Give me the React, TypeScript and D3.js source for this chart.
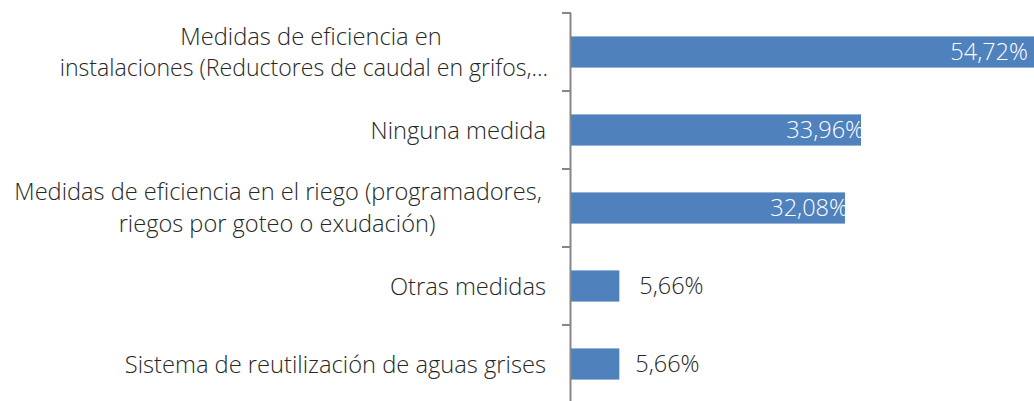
import React from "react";
import * as d3 from "d3";

const categories: string[][] = [
  ["Medidas de eficiencia en", "instalaciones (Reductores de caudal en grifos,…"],
  ["Ninguna medida"],
  ["Medidas de eficiencia en el riego (programadores,", "riegos por goteo o exudación)"],
  ["Otras medidas"],
  ["Sistema de reutilización de aguas grises"],
];
const values: number[] = [54.72, 33.96, 32.08, 5.66, 5.66];
const valueLabels: string[] = ["54,72%", "33,96%", "32,08%", "5,66%", "5,66%"];

const W = 1034;
const H = 401;
const FONT = "'Open Sans', 'Noto Sans', sans-serif";

type LinePos = { x: number; anchor: "start" | "middle" | "end"; size: number };
const linePos: LinePos[][] = [
  [{ x: 311, anchor: "middle", size: 23.7 }, { x: 548, anchor: "end", size: 23.1 }],
  [{ x: 546, anchor: "end", size: 23.7 }],
  [{ x: 278, anchor: "middle", size: 23.6 }, { x: 277, anchor: "middle", size: 23.6 }],
  [{ x: 546, anchor: "end", size: 23.7 }],
  [{ x: 546, anchor: "end", size: 23.7 }],
];

export default function App() {
  const keys = categories.map((_, i) => String(i));
  const y = d3.scaleBand<string>().domain(keys).range([13, 403]).paddingInner(0.6).paddingOuter(0.3);
  const x = d3.scaleLinear().domain([0, 60]).range([571, 1083.4]);
  const step = y.step();
  const tickYs = d3.range(categories.length + 1).map((i) => 13 + i * step);
  const outsideOffsets = [0, 0, 0, 20, 16];

  return (
    <svg
      width={W}
      height={H}
      style={{ position: "absolute", left: 0, top: 0, display: "block", background: "#fff" }}
      fontFamily={FONT}
      fontWeight={300}
    >
      {values.map((v, i) => {
        const yy = y(String(i))!;
        return (
          <rect key={"b" + i} x={x(0)} y={yy} width={x(v) - x(0)} height={y.bandwidth()} fill="#4f81bd" />
        );
      })}
      {values.map((v, i) => {
        const cy = y(String(i))! + y.bandwidth() / 2;
        const inside = v > 20;
        if (inside) {
          return (
            <text
              key={"v" + i}
              x={Math.min(x(v) + 3, 1028)}
              y={cy}
              dy="0.36em"
              textAnchor="end"
              fontSize={23.5}
              fill="#ffffff"
            >
              {valueLabels[i]}
            </text>
          );
        }
        return (
          <text key={"v" + i} x={x(v) + outsideOffsets[i]} y={cy} dy="0.36em" textAnchor="start" fontSize={23.5} fill="#262626">
            {valueLabels[i]}
          </text>
        );
      })}
      <line x1={570.5} x2={570.5} y1={13} y2={403} stroke="#868686" strokeWidth={2} />
      {tickYs.map((t, i) => (
        <line key={"t" + i} x1={562} x2={571} y1={t} y2={t} stroke="#868686" strokeWidth={2} />
      ))}
      {categories.map((lines, i) => {
        const cy = y(String(i))! + y.bandwidth() / 2;
        const lh = 32;
        const start = cy - ((lines.length - 1) * lh) / 2;
        return (
          <g key={"c" + i}>
            {lines.map((ln, j) => (
              <text
                key={j}
                x={linePos[i][j].x}
                y={start + j * lh}
                dy="0.36em"
                fontSize={linePos[i][j].size}
                fill="#262626"
                textAnchor={linePos[i][j].anchor}
              >
                {ln}
              </text>
            ))}
          </g>
        );
      })}
    </svg>
  );
}
